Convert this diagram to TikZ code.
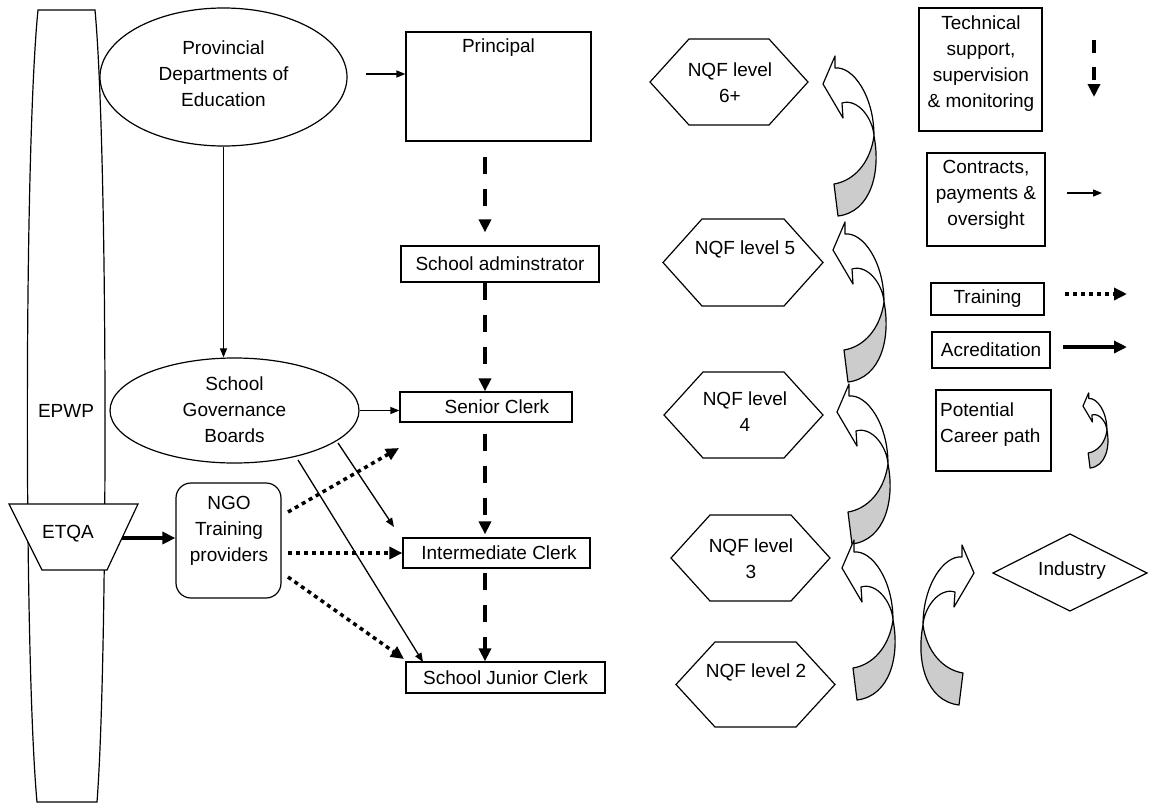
\documentclass[tikz,border=0pt]{standalone}
\usepackage{fontspec}
\setmainfont{Liberation Sans}
\usetikzlibrary{arrows.meta,shapes.geometric}
\definecolor{ribbon}{HTML}{CCCCCC}

\tikzset{
  outline/.style={draw, line width=1.2pt},
  box/.style={outline, rectangle, inner sep=0pt},
  txt/.style={inner sep=0pt, align=center},
  thinarrow/.style={line width=1.3pt, -{Triangle[length=9pt,width=7pt]}},
  supervise/.style={line width=4.5pt, dash pattern=on 17pt off 15pt, -{Triangle[length=13pt,width=12pt]}},
  trainarrow/.style={line width=3.5pt, dash pattern=on 4pt off 4pt, -{Triangle[length=13pt,width=12pt]}},
  accredit/.style={line width=4pt, -{Triangle[length=13pt,width=12pt]}},
  % twisted ribbon arrow used for the career path
  career/.pic={
    \draw[line width=1.2pt, fill=ribbon, line join=round]
      (51,52) .. controls (58,88) and (48,128) .. (15,132) -- (11,100)
      .. controls (30,97) and (47,80) .. (51,52) -- cycle;
    \draw[line width=1.2pt, fill=white, line join=round]
      (12,-16) .. controls (30,-18) and (51,12) .. (51,52)
      .. controls (50,35) and (35,14) .. (19,19) -- (20,34) -- (0,0) -- (12,-28) -- cycle;
  }
}

\begin{document}
\begin{tikzpicture}[x=1pt,y=-1pt, font=\fontsize{19}{26}\selectfont]
\useasboundingbox (0,0) rectangle (1149,804);
\fill[white] (0,0) rectangle (1149,804);

% EPWP column and ETQA
\draw[outline] (38,10) -- (95,10) .. controls (108,150) and (108,660) .. (97,802)
  -- (37,802) .. controls (24,660) and (24,150) .. (38,10) -- cycle;
\node[txt] (epwp) at (66,411) {EPWP};
\draw[outline, fill=white] (9,504) -- (138,504) -- (107,570) -- (42,570) -- cycle;
\node[txt] (etqa) at (68,534) {ETQA};
\coordinate (etqaOut) at (122,538);

% Departments and governance boards
\node[box, ellipse, minimum width=247pt, minimum height=138pt] (pde) at (223.5,77) {};
\node[txt] (pdeT) at (223.5,74) {Provincial\\Departments of\\Education};
\node[box, ellipse, minimum width=249pt, minimum height=105pt] (sgb) at (234.5,410.5) {};
\node[txt] (sgbT) at (234.5,410) {School\\Governance\\Boards};

% Training providers
\node[box, rounded corners=15pt, minimum width=105pt, minimum height=115pt] (ngo) at (228.5,540.5) {};
\node[txt] (ngoT) at (229,531) {NGO\\Training\\providers};

% School posts
\node[box, minimum width=185pt, minimum height=109pt] (principal) at (498.5,86.5) {};
\node[txt] (principalT) at (498.5,48) {Principal};
\node[box, minimum width=198pt, minimum height=36pt] (admin) at (500,264) {School adminstrator};
\node[box, minimum width=172pt, minimum height=30pt] (senior) at (486,407) {};
\node[txt] (seniorT) at (497,407) {Senior Clerk};
\node[box, minimum width=187pt, minimum height=30pt] (inter) at (496.5,553) {};
\node[txt] (interT) at (499,553) {Intermediate Clerk};
\node[box, minimum width=199pt, minimum height=31pt] (junior) at (505.5,677.5) {School Junior Clerk};

% NQF levels
\draw[outline] (650,82) -- (689,39) -- (769,39) -- (808,82) -- (769,125) -- (689,125) -- cycle;
\node[txt] (nqf6) at (730,82.5) {NQF level\\6+};
\draw[outline] (663,262.5) -- (702,219) -- (784,219) -- (823,262.5) -- (784,306) -- (702,306) -- cycle;
\node[txt] (nqf5) at (745,249) {NQF level 5};
\draw[outline] (664,415) -- (703,372) -- (784,372) -- (823,415) -- (784,458) -- (703,458) -- cycle;
\node[txt] (nqf4) at (745,412) {NQF level\\4};
\draw[outline] (671,558) -- (710,515) -- (791,515) -- (830,558) -- (791,601) -- (710,601) -- cycle;
\node[txt] (nqf3) at (751,559) {NQF level\\3};
\draw[outline] (676,684.5) -- (715,642) -- (796,642) -- (835,684.5) -- (796,727) -- (715,727) -- cycle;
\node[txt] (nqf2) at (756,672) {NQF level 2};

% Career path ribbons
\pic at (823,84) {career};
\pic at (833,250) {career};
\pic at (837,412) {career};
\pic at (842,568) {career};
\pic[xscale=-1] at (974,573) {career};

% Industry
\draw[outline] (993,573) -- (1070,534) -- (1147,573) -- (1070,611) -- cycle;
\node[txt] (industry) at (1072,571) {Industry};

% Legend
\node[box, minimum width=123pt, minimum height=123pt] (tech) at (980.5,69.5) {};
\node[txt] (techT) at (981,64) {Technical\\support,\\supervision\\\& monitoring};
\node[box, minimum width=118pt, minimum height=93pt] (contracts) at (986,199.5) {};
\node[txt] (contractsT) at (986,195) {Contracts,\\payments \&\\oversight};
\node[box, minimum width=113pt, minimum height=32pt] (training) at (987.5,299) {Training};
\node[box, minimum width=118pt, minimum height=36pt] (acred) at (991,350) {Acreditation};
\node[box, minimum width=115pt, minimum height=81pt] (potential) at (993.5,430.5) {};
\node[txt, align=left, anchor=west] (potentialT) at (940,425) {Potential\\Career path};
\pic[scale=0.47] at (1083,406) {career};

\coordinate (legSupA) at (1094,40);   \coordinate (legSupB) at (1094,97);
\coordinate (legConA) at (1067,193);  \coordinate (legConB) at (1102,193);
\coordinate (legTrA) at (1065,294);   \coordinate (legTrB) at (1127,294);
\coordinate (legAcA) at (1063,347);   \coordinate (legAcB) at (1127,347);
\draw[supervise, dash pattern=on 13pt off 14pt] (legSupA) -- (legSupB);
\draw[thinarrow] (legConA) -- (legConB);
\draw[trainarrow] (legTrA) -- (legTrB);
\draw[accredit] (legAcA) -- (legAcB);

% Contracts, payments and oversight
\coordinate (pdeOut) at (366,74);
\draw[thinarrow] (pdeOut) -- (pdeOut -| principal.west);
\draw[thinarrow] (pde.south) -- (pde.south |- sgb.north);
\draw[thinarrow] (sgb.east) -- (sgb.east -| senior.west);
\coordinate (sgbA) at (338,443);  \coordinate (interIn) at (394,527);
\draw[thinarrow] (sgbA) -- (interIn);
\coordinate (sgbB) at (298,460);  \coordinate (juniorIn) at (423,662);
\draw[thinarrow] (sgbB) -- (juniorIn);

% Training
\coordinate (ngoA) at (288,512);  \coordinate (seniorIn) at (399,448);
\coordinate (ngoB) at (288,553);
\coordinate (ngoC) at (288,577);  \coordinate (juniorIn2) at (404,659);
\draw[trainarrow] (ngoA) -- (seniorIn);
\draw[trainarrow] (ngoB) -- (ngoB -| inter.west);
\draw[trainarrow] (ngoC) -- (juniorIn2);

% Accreditation
\draw[accredit] (etqaOut) -- (etqaOut -| ngo.west);

% Technical support, supervision and monitoring
\coordinate (spine) at (485,0);
\draw[supervise, shorten <=15pt, shorten >=13pt] (principal.south -| spine) -- (admin.north -| spine);
\draw[supervise] (admin.south -| spine) -- (senior.north -| spine);
\draw[supervise, shorten <=11pt, shorten >=3pt] (senior.south -| spine) -- (inter.north -| spine);
\draw[supervise, shorten <=4pt] (inter.south -| spine) -- (junior.north -| spine);
\end{tikzpicture}
\end{document}
